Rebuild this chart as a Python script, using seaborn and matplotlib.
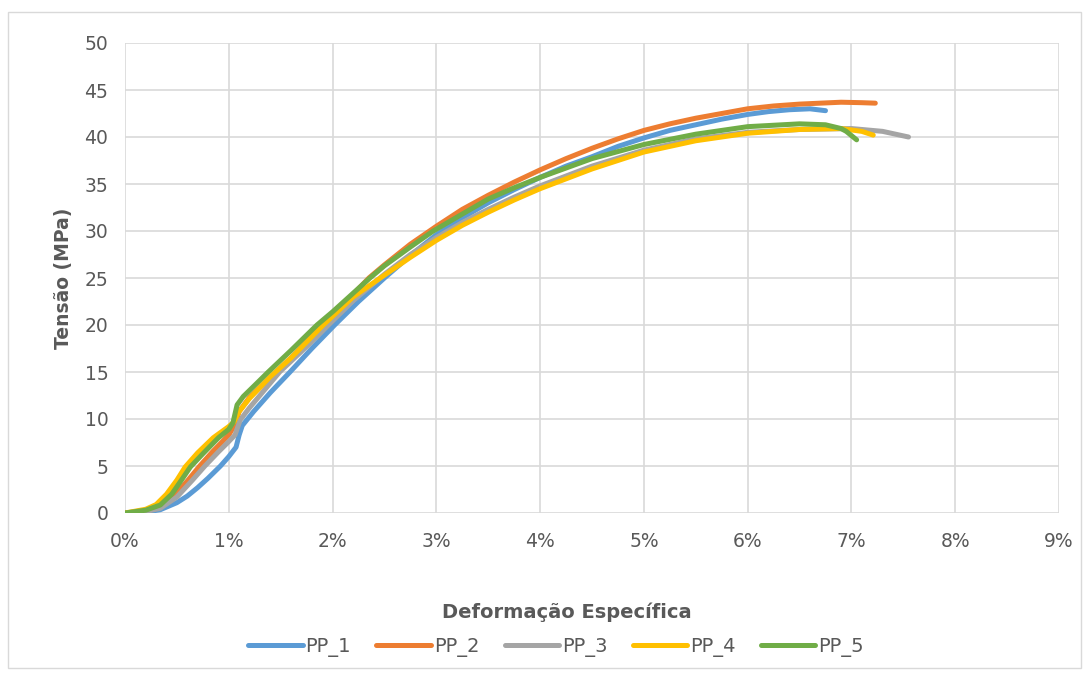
import numpy as np
import pandas as pd
import matplotlib
matplotlib.use("Agg")
import matplotlib.pyplot as plt
import seaborn as sns
from matplotlib.patches import Rectangle
from matplotlib.lines import Line2D
from matplotlib.ticker import FuncFormatter

# ---------------- data (strain in %, stress in MPa) ----------------
series_names = ["PP_1", "PP_2", "PP_3", "PP_4", "PP_5"]

pp1_strain = [0, 0.2, 0.34, 0.5, 0.6, 0.7, 0.8, 0.92, 1.0, 1.07, 1.1, 1.13, 1.24, 1.4, 1.59, 1.8,
              2.02, 2.25, 2.5, 2.75, 3.0, 3.25, 3.5, 3.75, 4.0, 4.25, 4.5, 4.75, 5.0, 5.25, 5.5,
              5.75, 6.0, 6.2, 6.4, 6.6, 6.75]
pp1_stress = [0, 0.1, 0.35, 1.1, 1.8, 2.7, 3.7, 5.0, 6.0, 7.0, 8.3, 9.3, 10.8, 12.8, 15.0, 17.5,
              20.0, 22.5, 25.0, 27.4, 29.6, 31.4, 33.0, 34.4, 35.7, 36.9, 37.9, 39.0, 39.9, 40.7, 41.3,
              41.9, 42.4, 42.7, 42.9, 43.0, 42.8]

pp2_strain = [0, 0.2, 0.34, 0.45, 0.6, 0.72, 0.85, 1.0, 1.06, 1.1, 1.2, 1.4, 1.6, 1.85, 2.0, 2.35,
              2.5, 2.75, 3.0, 3.25, 3.5, 3.75, 4.0, 4.25, 4.5, 4.75, 5.0, 5.25, 5.5, 5.75, 6.0,
              6.25, 6.5, 6.9, 7.1, 7.23]
pp2_stress = [0, 0.2, 0.6, 1.5, 3.4, 5.0, 6.6, 8.3, 9.4, 10.8, 12.3, 14.4, 16.5, 19.4, 21.0, 25.0,
              26.4, 28.6, 30.5, 32.3, 33.8, 35.2, 36.5, 37.7, 38.8, 39.8, 40.7, 41.4, 42.0, 42.5, 43.0,
              43.3, 43.5, 43.7, 43.65, 43.6]

pp3_strain = [0, 0.2, 0.34, 0.5, 0.65, 0.77, 0.9, 1.0, 1.06, 1.11, 1.2, 1.49, 1.75, 1.96, 2.2, 2.5,
              2.75, 3.0, 3.25, 3.5, 3.75, 4.0, 4.5, 5.0, 5.5, 6.0, 6.5, 7.0, 7.3, 7.55]
pp3_stress = [0, 0.15, 0.5, 1.7, 3.5, 5.0, 6.5, 7.6, 8.3, 9.9, 11.2, 15.0, 17.7, 20.0, 22.6, 25.4,
              27.5, 29.3, 30.9, 32.3, 33.6, 34.8, 36.9, 38.6, 39.8, 40.5, 40.8, 40.9, 40.6, 40.0]

pp4_strain = [0, 0.2, 0.3, 0.4, 0.5, 0.58, 0.7, 0.85, 1.0, 1.05, 1.1, 1.2, 1.4, 1.6, 1.91, 2.2,
              2.46, 2.75, 3.0, 3.25, 3.5, 3.75, 4.0, 4.5, 5.0, 5.5, 6.0, 6.5, 6.9, 7.1, 7.21]
pp4_stress = [0, 0.4, 0.9, 2.0, 3.5, 4.9, 6.4, 8.0, 9.2, 9.7, 10.8, 12.2, 14.5, 16.5, 20.0, 23.0,
              25.0, 27.2, 29.0, 30.6, 32.0, 33.3, 34.5, 36.6, 38.4, 39.6, 40.4, 40.8, 40.9, 40.6, 40.2]

pp5_strain = [0, 0.2, 0.34, 0.45, 0.55, 0.63, 0.75, 0.9, 1.0, 1.04, 1.08, 1.14, 1.27, 1.38, 1.6,
              1.85, 2.0, 2.36, 2.5, 2.75, 2.97, 3.25, 3.5, 3.75, 4.0, 4.5, 5.0, 5.5, 6.0, 6.5,
              6.75, 6.9, 6.95, 7.05]
pp5_stress = [0, 0.3, 0.85, 2.0, 3.6, 4.9, 6.3, 8.0, 8.9, 9.6, 11.5, 12.4, 13.8, 15.0, 17.3,
              20.0, 21.4, 25.0, 26.3, 28.3, 30.0, 31.8, 33.4, 34.6, 35.7, 37.7, 39.2, 40.3, 41.1, 41.4,
              41.3, 40.9, 40.6, 39.7]

x_ticks = [0, 1, 2, 3, 4, 5, 6, 7, 8, 9]
y_ticks = [0, 5, 10, 15, 20, 25, 30, 35, 40, 45, 50]

series_colors = ["#5B9BD5", "#ED7D31", "#A5A5A5", "#FFC000", "#70AD47"]

x_title = "Deformação Específica"
y_title = "Tensão (MPa)"

# ---------------- build long-form table ----------------
strains = [pp1_strain, pp2_strain, pp3_strain, pp4_strain, pp5_strain]
stresses = [pp1_stress, pp2_stress, pp3_stress, pp4_stress, pp5_stress]
frames = []
for name, xs, ys in zip(series_names, strains, stresses):
    frames.append(pd.DataFrame({"Deformação": xs, "Tensão": ys, "Série": name}))
df = pd.concat(frames, ignore_index=True)

# ---------------- style ----------------
sns.set_theme(style="whitegrid")
plt.rcParams['font.family'] = ['DejaVu Sans']
text_color = "#595959"
grid_color = "#D9D9D9"

W, H = 1088, 675
fig = plt.figure(figsize=(W / 100, H / 100), dpi=100)
left, right, top, bottom = 125, 1059, 43, 513
ax = fig.add_axes([left / W, 1 - bottom / H, (right - left) / W, (bottom - top) / H])

palette = dict(zip(series_names, series_colors))
sns.lineplot(data=df, x="Deformação", y="Tensão", hue="Série", palette=palette,
             sort=False, estimator=None, linewidth=3.6, ax=ax, legend=False)
for ln in ax.lines:
    ln.set_solid_capstyle("round")
    ln.set_solid_joinstyle("round")

ax.set_xlim(0, 9)
ax.set_ylim(0, 50)
ax.set_xticks(x_ticks)
ax.set_yticks(y_ticks)
ax.xaxis.set_major_formatter(FuncFormatter(lambda v, p: f"{v:.0f}%"))
ax.grid(True, color=grid_color, linewidth=1.2)
ax.set_axisbelow(True)
for s in ax.spines.values():
    s.set_visible(False)
ax.tick_params(axis="both", length=0, colors=text_color, labelsize=13.5)
ax.tick_params(axis="x", pad=14)
ax.tick_params(axis="y", pad=12)

ax.set_xlabel(x_title, fontsize=14, fontweight="bold", color=text_color)
ax.set_ylabel(y_title, fontsize=13.5, fontweight="bold", color=text_color)
ax.xaxis.set_label_coords((567 - left) / (right - left), -(602 - bottom) / (bottom - top))
ax.yaxis.set_label_coords(-(left - 73) / (right - left), 0.5)

handles = [Line2D([0], [0], color=c, linewidth=3.6, solid_capstyle="round") for c in series_colors]
leg = ax.legend(handles, series_names, loc="center",
                bbox_to_anchor=((556 - left) / (right - left), -(647 - bottom) / (bottom - top)),
                ncol=5, frameon=False, fontsize=14, handlelength=2.8, handletextpad=0.15,
                columnspacing=1.3, borderpad=0)
for t in leg.get_texts():
    t.set_color(text_color)

# outer chart frame
fig.patches.append(Rectangle((8 / W, 1 - 668 / H), (1081 - 8) / W, (668 - 12) / H,
                             transform=fig.transFigure, fill=False,
                             edgecolor=grid_color, linewidth=1.0))

fig.savefig("out.png", dpi=100, facecolor="white")
